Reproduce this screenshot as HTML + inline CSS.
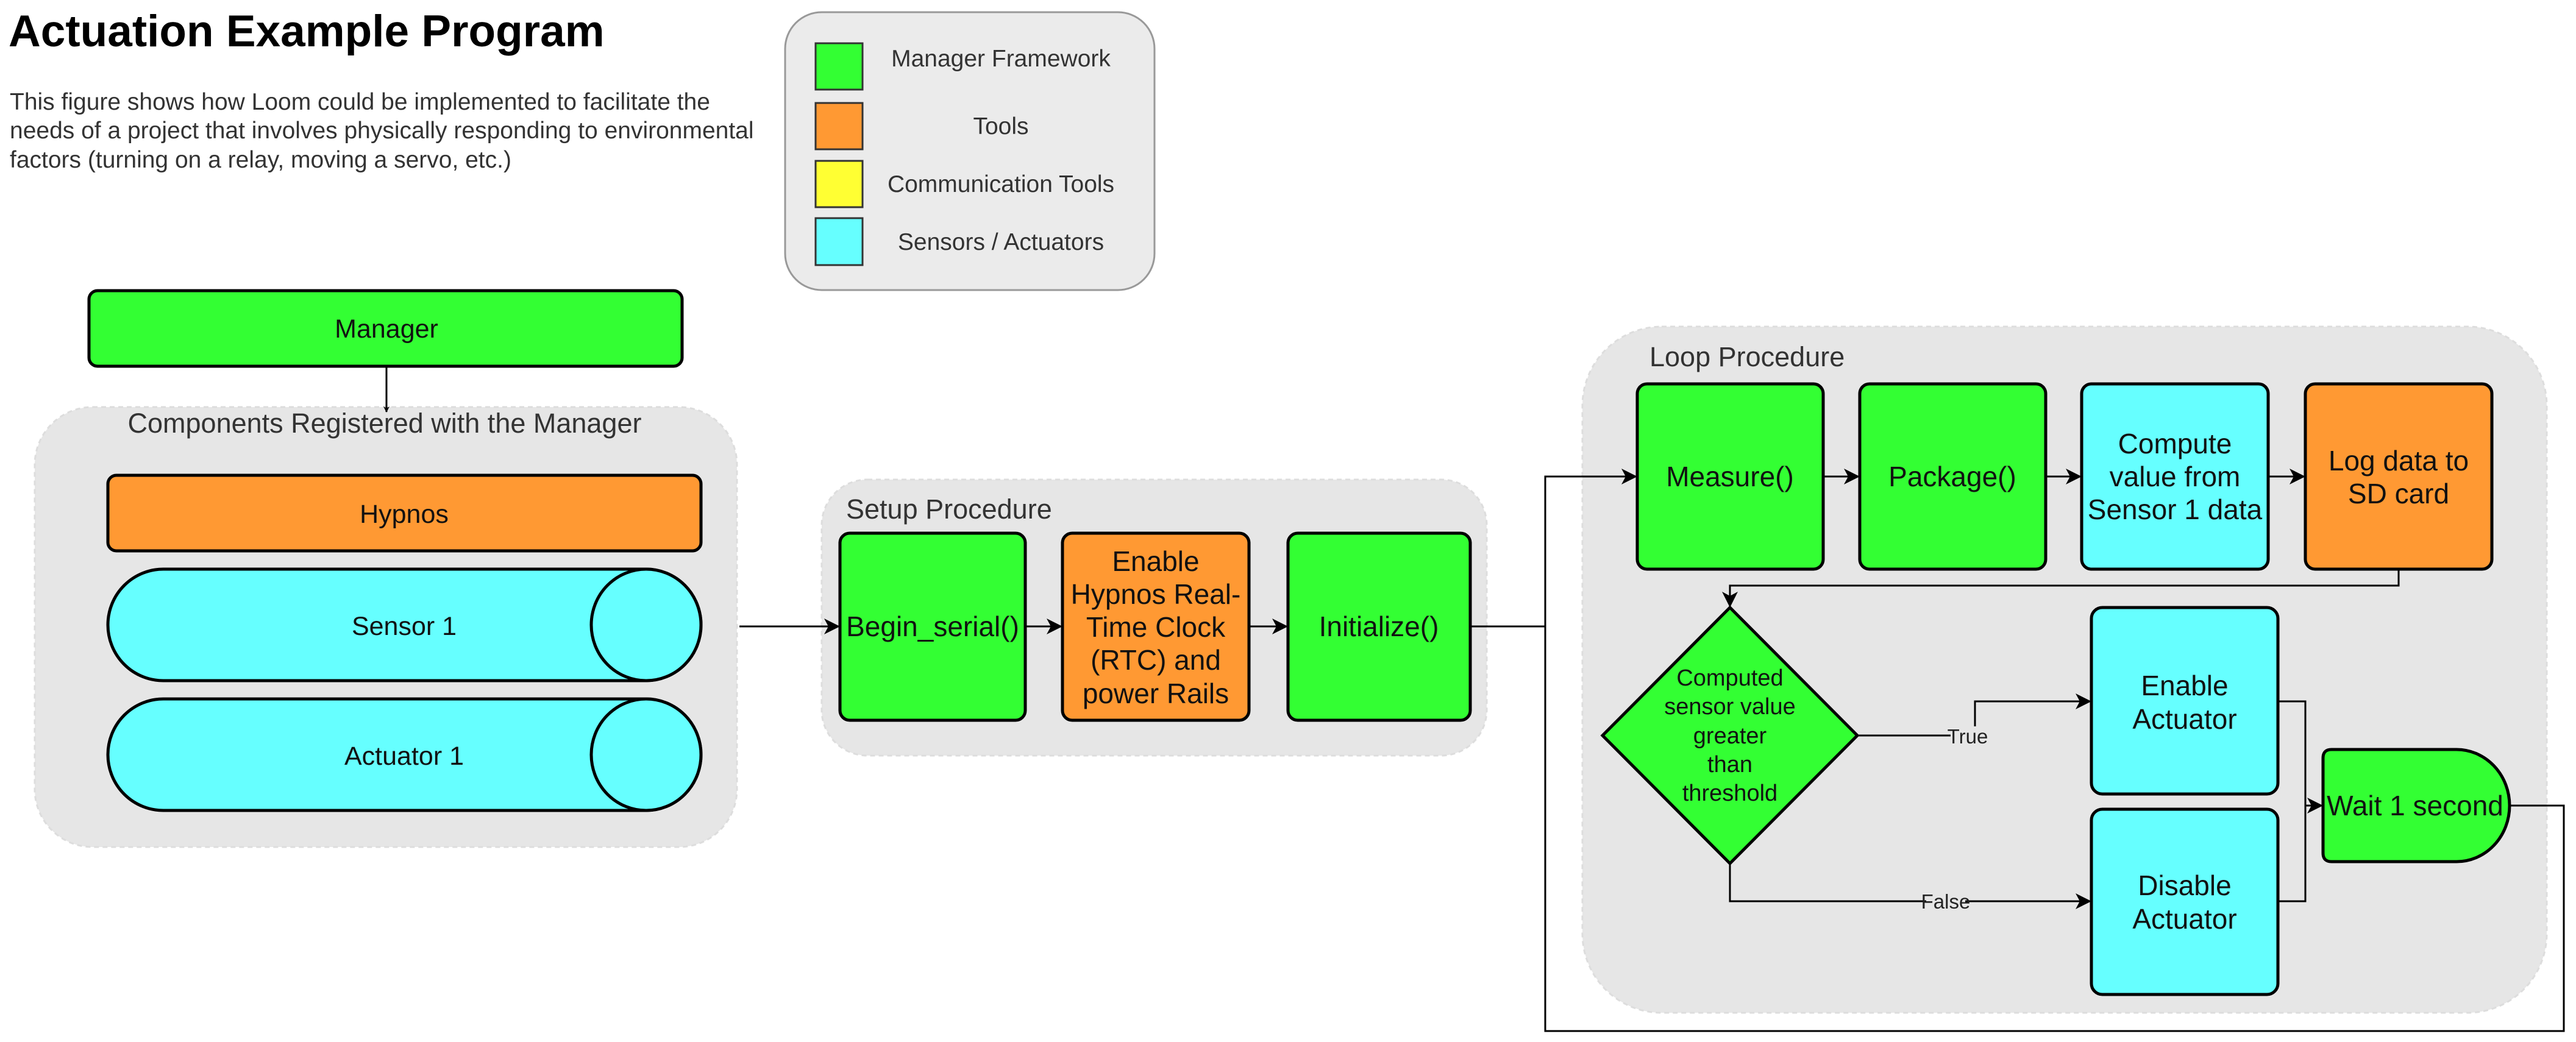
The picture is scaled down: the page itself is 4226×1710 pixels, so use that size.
<!DOCTYPE html>
<html><head><meta charset="utf-8"><style>
html,body{margin:0;padding:0;background:#fff;}
svg{display:block;}
text{font-family:"Liberation Sans",sans-serif;}
</style></head><body>
<svg width="4226" height="1710" viewBox="0 0 4226 1710" xmlns="http://www.w3.org/2000/svg">
<defs>
<marker id="a" markerWidth="10" markerHeight="10" refX="9" refY="5" orient="auto" markerUnits="userSpaceOnUse">
<path d="M0,0 L10,5 L0,10 L3,5 Z" fill="#000"/>
</marker>
<marker id="b" markerWidth="26" markerHeight="26" refX="24" refY="13" orient="auto" markerUnits="userSpaceOnUse">
<path d="M0,0 L26,13 L0,26 L7,13 Z" fill="#000"/>
</marker>
</defs>
<rect width="4226" height="1710" fill="#fff"/>
<!-- Title -->
<text x="14" y="76" font-size="73" font-weight="bold" fill="#000">Actuation Example Program</text>
<text font-size="39" fill="#333">
<tspan x="16" y="180">This figure shows how Loom could be implemented to facilitate the</tspan>
<tspan x="16" y="227">needs of a project that involves physically responding to environmental</tspan>
<tspan x="16" y="275">factors (turning on a relay, moving a servo, etc.)</tspan>
</text>
<!-- Legend -->
<rect x="1288" y="20" width="606" height="456" rx="60" fill="#ebebeb" stroke="#999" stroke-width="3"/>
<rect x="1338" y="71" width="77" height="76" fill="#33ff33" stroke="#333" stroke-width="3"/>
<rect x="1338" y="169" width="77" height="76" fill="#ff9933" stroke="#333" stroke-width="3"/>
<rect x="1338" y="264" width="77" height="76" fill="#ffff33" stroke="#333" stroke-width="3"/>
<rect x="1338" y="358" width="77" height="77" fill="#66ffff" stroke="#333" stroke-width="3"/>
<g font-size="39" fill="#333" text-anchor="middle">
<text x="1642" y="109">Manager Framework</text>
<text x="1642" y="220">Tools</text>
<text x="1642" y="315">Communication Tools</text>
<text x="1642" y="410">Sensors / Actuators</text>
</g>
<!-- Groups -->
<rect x="57" y="668" width="1152" height="722" rx="95" fill="#e6e6e6" stroke="#ddd" stroke-width="3" stroke-dasharray="8,6"/>
<rect x="1348" y="787" width="1091" height="453" rx="75" fill="#e6e6e6" stroke="#ddd" stroke-width="3" stroke-dasharray="8,6"/>
<rect x="2596" y="536" width="1582" height="1126" rx="130" fill="#e6e6e6" stroke="#ddd" stroke-width="3" stroke-dasharray="8,6"/>
<g font-size="45" fill="#333">
<text x="631" y="710" text-anchor="middle">Components Registered with the Manager</text>
<text x="1388" y="851">Setup Procedure</text>
<text x="2706" y="601">Loop Procedure</text>
</g>
<!-- Manager -->
<rect x="146" y="477" width="973" height="124" rx="14" fill="#33ff33" stroke="#000" stroke-width="5"/>
<line x1="634" y1="601" x2="634" y2="676" stroke="#000" stroke-width="3" marker-end="url(#a)"/>
<!-- Hypnos -->
<rect x="177" y="780" width="973" height="124" rx="14" fill="#ff9933" stroke="#000" stroke-width="5"/>
<!-- Cylinders -->
<path d="M268,934 L1060,934 A90,91.5 0 0 1 1060,1117 L268,1117 A91,91.5 0 0 1 268,934 Z" fill="#66ffff" stroke="#000" stroke-width="5"/>
<ellipse cx="1060" cy="1025.5" rx="90" ry="91.5" fill="#66ffff" stroke="#000" stroke-width="5"/>
<path d="M268,1147 L1060,1147 A90,91.5 0 0 1 1060,1330 L268,1330 A91,91.5 0 0 1 268,1147 Z" fill="#66ffff" stroke="#000" stroke-width="5"/>
<ellipse cx="1060" cy="1238.5" rx="90" ry="91.5" fill="#66ffff" stroke="#000" stroke-width="5"/>
<g font-size="43" fill="#111" text-anchor="middle">
<text x="634" y="554">Manager</text>
<text x="663" y="858">Hypnos</text>
<text x="663" y="1042">Sensor 1</text>
<text x="663" y="1255">Actuator 1</text>
</g>
<!-- Setup boxes -->
<line x1="1213" y1="1028" x2="1376" y2="1028" stroke="#000" stroke-width="3" marker-end="url(#b)"/>
<rect x="1378" y="875" width="304" height="307" rx="16" fill="#33ff33" stroke="#000" stroke-width="5"/>
<rect x="1743" y="875" width="306" height="307" rx="16" fill="#ff9933" stroke="#000" stroke-width="5"/>
<rect x="2113" y="875" width="299" height="307" rx="16" fill="#33ff33" stroke="#000" stroke-width="5"/>
<line x1="1682" y1="1028" x2="1741" y2="1028" stroke="#000" stroke-width="3" marker-end="url(#b)"/>
<line x1="2049" y1="1028" x2="2111" y2="1028" stroke="#000" stroke-width="3" marker-end="url(#b)"/>
<g font-size="46" fill="#111" text-anchor="middle">
<text x="1530" y="1044">Begin_serial()</text>
<text x="1896" y="937">Enable</text>
<text x="1896" y="991">Hypnos Real-</text>
<text x="1896" y="1045">Time Clock</text>
<text x="1896" y="1099">(RTC) and</text>
<text x="1896" y="1154">power Rails</text>
<text x="2262" y="1044">Initialize()</text>
</g>
<!-- Loop connectors -->
<polyline points="2412,1028 2535,1028 2535,782 2684,782" fill="none" stroke="#000" stroke-width="3" marker-end="url(#b)"/>
<polyline points="4117,1322 4206,1322 4206,1692 2535,1692 2535,1028" fill="none" stroke="#000" stroke-width="3"/>
<!-- Loop boxes -->
<rect x="2686" y="630" width="305" height="304" rx="16" fill="#33ff33" stroke="#000" stroke-width="5"/>
<rect x="3051" y="630" width="305" height="304" rx="16" fill="#33ff33" stroke="#000" stroke-width="5"/>
<rect x="3415" y="630" width="306" height="304" rx="16" fill="#66ffff" stroke="#000" stroke-width="5"/>
<rect x="3782" y="630" width="306" height="304" rx="16" fill="#ff9933" stroke="#000" stroke-width="5"/>
<line x1="2991" y1="782" x2="3049" y2="782" stroke="#000" stroke-width="3" marker-end="url(#b)"/>
<line x1="3356" y1="782" x2="3413" y2="782" stroke="#000" stroke-width="3" marker-end="url(#b)"/>
<line x1="3721" y1="782" x2="3780" y2="782" stroke="#000" stroke-width="3" marker-end="url(#b)"/>
<polyline points="3935,934 3935,961 2838,961 2838,995" fill="none" stroke="#000" stroke-width="3" marker-end="url(#b)"/>
<!-- Diamond -->
<polygon points="2838,997 3047,1207 2838,1417 2629,1207" fill="#33ff33" stroke="#000" stroke-width="5"/>
<!-- Actuator boxes -->
<rect x="3431" y="997" width="306" height="306" rx="18" fill="#66ffff" stroke="#000" stroke-width="5"/>
<rect x="3431" y="1328" width="306" height="304" rx="18" fill="#66ffff" stroke="#000" stroke-width="5"/>
<polyline points="3047,1207 3240,1207 3240,1151 3429,1151" fill="none" stroke="#000" stroke-width="3" marker-end="url(#b)"/>
<polyline points="2838,1417 2838,1479 3429,1479" fill="none" stroke="#000" stroke-width="3" marker-end="url(#b)"/>
<polyline points="3737,1151 3782,1151 3782,1479 3737,1479" fill="none" stroke="#000" stroke-width="3"/>
<line x1="3782" y1="1322" x2="3809" y2="1322" stroke="#000" stroke-width="3" marker-end="url(#b)"/>
<rect x="3200" y="1192" width="56" height="34" fill="#e6e6e6"/>
<rect x="3160" y="1463" width="64" height="34" fill="#e6e6e6"/>
<g font-size="33" fill="#222" text-anchor="middle">
<text x="3228" y="1220">True</text>
<text x="3192" y="1491">False</text>
</g>
<!-- Wait -->
<path d="M3825,1230 L4030,1230 A87,92 0 0 1 4030,1414 L3825,1414 Q3811,1414 3811,1400 L3811,1244 Q3811,1230 3825,1230 Z" fill="#33ff33" stroke="#000" stroke-width="5"/>
<g font-size="46" fill="#111" text-anchor="middle">
<text x="2838" y="798">Measure()</text>
<text x="3203" y="798">Package()</text>
<text x="3568" y="744">Compute</text>
<text x="3568" y="798">value from</text>
<text x="3568" y="852">Sensor 1 data</text>
<text x="3935" y="772">Log data to</text>
<text x="3935" y="826">SD card</text>
<text x="3584" y="1141">Enable</text>
<text x="3584" y="1196">Actuator</text>
<text x="3584" y="1469">Disable</text>
<text x="3584" y="1524">Actuator</text>
<text x="3962" y="1338">Wait 1 second</text>
</g>
<g font-size="38" fill="#111" text-anchor="middle">
<text x="2838" y="1125">Computed</text>
<text x="2838" y="1172">sensor value</text>
<text x="2838" y="1220">greater</text>
<text x="2838" y="1267">than</text>
<text x="2838" y="1314">threshold</text>
</g>
</svg>
</body></html>
